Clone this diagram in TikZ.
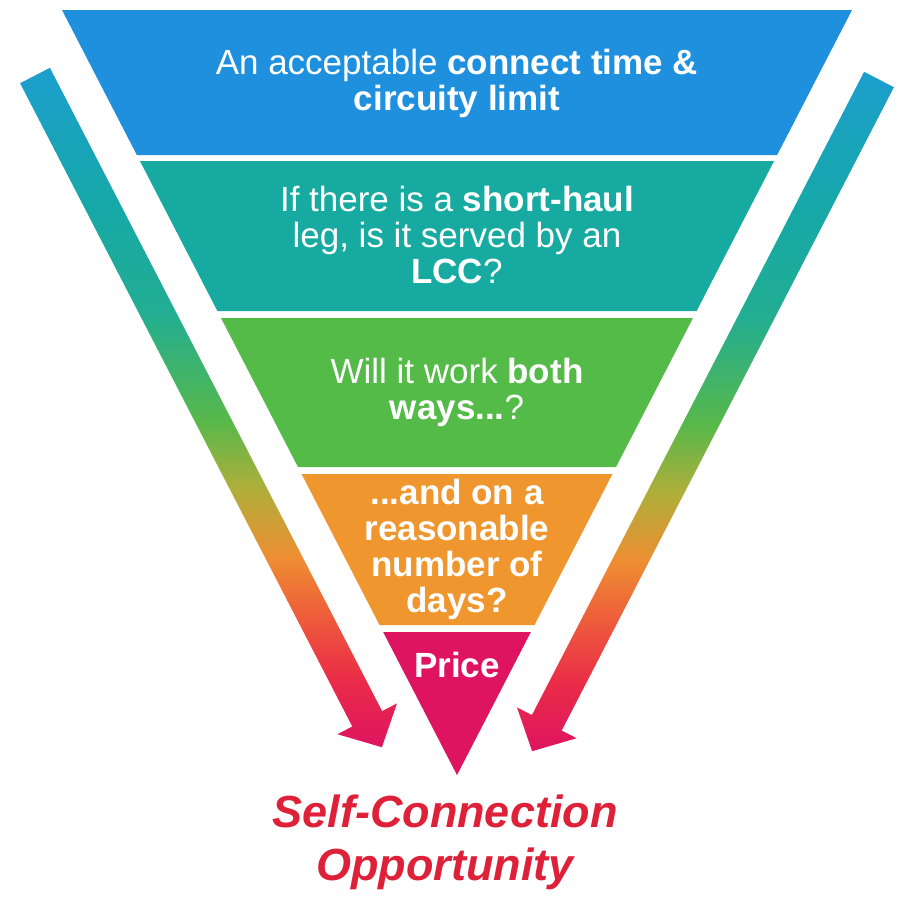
\documentclass[tikz,border=0pt]{standalone}
\usepackage{fontspec}
\setmainfont{Liberation Sans}
\usetikzlibrary{positioning}

\definecolor{funnelblue}{RGB}{30,144,222}
\definecolor{funnelteal}{RGB}{22,170,160}
\definecolor{funnelgreen}{RGB}{84,186,72}
\definecolor{funnelorange}{RGB}{240,150,46}
\definecolor{funnelpink}{RGB}{222,20,96}
\definecolor{goalred}{RGB}{222,32,56}
\definecolor{arrowred}{RGB}{234,44,72}
\definecolor{arrowcoral}{RGB}{238,96,58}
\definecolor{arroworange}{RGB}{238,142,50}
\definecolor{arrowolive}{RGB}{176,174,58}
\definecolor{arrowgreen}{RGB}{88,184,74}
\definecolor{arrowsea}{RGB}{34,174,146}
\definecolor{arrowteal}{RGB}{22,168,168}
\definecolor{arrowblue}{RGB}{28,158,206}

% colour run of the side arrows, bottom to top
\pgfdeclareverticalshading{sidearrow}{100bp}{%
  color(0bp)=(funnelpink); color(25bp)=(funnelpink);
  color(30bp)=(arrowred); color(35bp)=(arrowcoral);
  color(39bp)=(arroworange); color(44bp)=(arrowolive);
  color(49bp)=(arrowgreen); color(57bp)=(arrowsea);
  color(65bp)=(arrowteal); color(75bp)=(arrowblue);
  color(100bp)=(arrowblue)}

\begin{document}
\begin{tikzpicture}[
  x=1pt, y=-1pt,
  font=\fontsize{35}{36}\selectfont,
  band/.style={text=white, align=center, inner sep=0pt},
  goal/.style={text=goalred, align=center, inner sep=0pt,
    font=\fontsize{45}{53}\selectfont\bfseries\itshape}
]
\fill[white] (0,0) rectangle (909,900);
\useasboundingbox (0,0) rectangle (909,900);

% funnel bands: top, bottom, colour
\foreach \ya/\yb/\col in {10/155/funnelblue, 161/311/funnelteal,
    318/467/funnelgreen, 474/625/funnelorange, 632/775/funnelpink}
  \fill[\col] ({62+0.5163*(\ya-10)},\ya) -- ({852-0.5163*(\ya-10)},\ya)
    -- ({852-0.5163*(\yb-10)},\yb) -- ({62+0.5163*(\yb-10)},\yb) -- cycle;

% side arrows, the right one mirrored
\foreach \side/\dy in {1/0, -1/4}
  \shade[shading=sidearrow, shift={(457,\dy)}, xscale=\side]
    (-436.9,83.2) -- (-407.1,67.8) -- (-74.9,711.1) -- (-60.0,703.4)
    -- (-75.1,747.2) -- (-119.6,734.2) -- (-104.7,726.5) -- cycle;

\node[band] (time) at (457,83) {An acceptable \textbf{connect time \&}\\\textbf{circuity limit}};
\node[band] (lcc) at (457,235) {If there is a \textbf{short-haul}\\leg, is it served by an\\\textbf{LCC}?};
\node[band] (ways) at (457,392) {Will it work \textbf{both}\\\textbf{ways...}?};
\node[band, font=\fontsize{35}{36}\selectfont\bfseries] (days) at (457,549) {...and on a\\reasonable\\number of\\days?};
\node[band, font=\fontsize{35}{36}\selectfont\bfseries] (price) at (457,665) {Price};
\node[goal] (opp) at (445,842) {Self-Connection\\Opportunity};
\end{tikzpicture}
\end{document}
